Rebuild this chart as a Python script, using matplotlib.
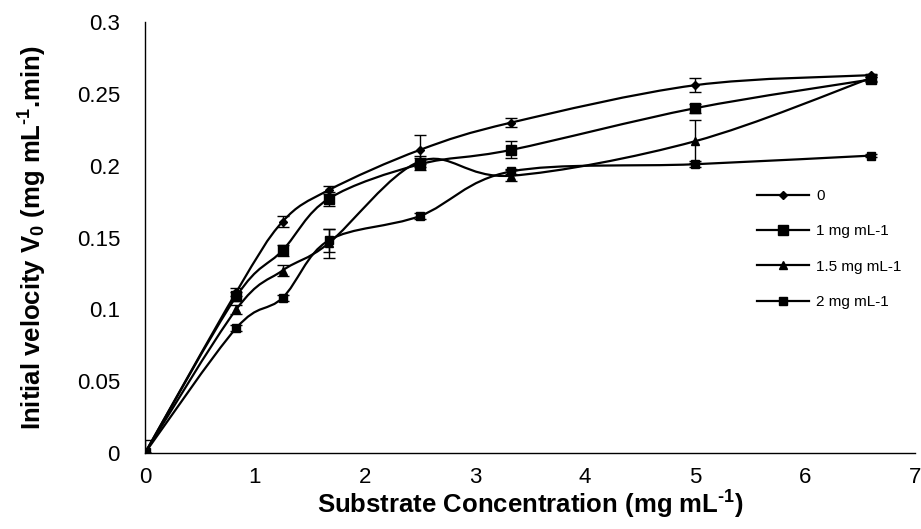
import numpy as np
import matplotlib
matplotlib.use('Agg')
import matplotlib.pyplot as plt
from matplotlib.path import Path
from matplotlib.patches import PathPatch
from matplotlib.lines import Line2D

plt.rcParams['font.family'] = ['Liberation Sans', 'DejaVu Sans']
plt.rcParams['mathtext.fontset'] = 'custom'
plt.rcParams['mathtext.rm'] = 'Liberation Sans:bold'
plt.rcParams['mathtext.it'] = 'Liberation Sans:bold'
plt.rcParams['mathtext.bf'] = 'Liberation Sans:bold'

# substrate concentration (mg/mL)
conc = [0, 0.83, 1.25, 1.67, 2.5, 3.33, 5, 6.6]

labels = ['0', '1 mg mL-1', '1.5 mg mL-1', '2 mg mL-1']
v_0 = [0, 0.112, 0.161, 0.183, 0.211, 0.230, 0.256, 0.263]
err_0 = [0, 0.003, 0.004, 0.003, 0.010, 0.003, 0.005, 0.001]
v_1 = [0, 0.109, 0.141, 0.177, 0.201, 0.211, 0.240, 0.260]
err_1 = [0, 0.003, 0.004, 0.005, 0.004, 0.006, 0.003, 0.002]
v_15 = [0, 0.100, 0.127, 0.146, 0.203, 0.193, 0.217, 0.261]
err_15 = [0.009, 0.003, 0.004, 0.010, 0.004, 0.004, 0.015, 0.002]
v_2 = [0, 0.087, 0.108, 0.148, 0.165, 0.196, 0.201, 0.207]
err_2 = [0, 0.002, 0.002, 0.008, 0.002, 0.002, 0.002, 0.001]

series = [v_0, v_1, v_15, v_2]
errors = [err_0, err_1, err_15, err_2]
markers = ['D', 's', '^', 's']
msizes = [4.5, 6.5, 6, 5.5]


def smooth_path(x, y):
    # excel-like smoothed line: cubic bezier segments through the points
    p = np.column_stack([x, y]).astype(float)
    ext = np.vstack([p[0], p, p[-1]])
    verts = [p[0]]
    codes = [Path.MOVETO]
    for i in range(len(p) - 1):
        p0, p1, p2, p3 = ext[i], ext[i + 1], ext[i + 2], ext[i + 3]
        c1 = p1 + (p2 - p0) / 6.0
        c2 = p2 - (p3 - p1) / 6.0
        verts += [c1, c2, p2]
        codes += [Path.CURVE4] * 3
    return Path(verts, codes)


fig = plt.figure(figsize=(9.21, 5.29), dpi=100)
ax = fig.add_axes([145 / 921, 1 - 453 / 529, 770 / 921, 431 / 529])

for vals, err, m, ms in zip(series, errors, markers, msizes):
    ax.add_patch(PathPatch(smooth_path(conc, vals), facecolor='none',
                           edgecolor='black', lw=1.6, zorder=2))
    ax.errorbar(conc, vals, yerr=err, fmt='none', ecolor='black',
                elinewidth=1, capsize=4, capthick=1, zorder=3)
    ax.plot(conc, vals, ls='none', marker=m, ms=ms, color='black', zorder=4)

ax.set_xlim(0, 7)
ax.set_ylim(0, 0.3)
ax.set_xticks(range(8))
ax.set_yticks([0, 0.05, 0.1, 0.15, 0.2, 0.25, 0.3])
ax.set_yticklabels(['0', '0.05', '0.1', '0.15', '0.2', '0.25', '0.3'])
ax.tick_params(length=0, labelsize=16)
ax.tick_params(axis='y', pad=18)
ax.tick_params(axis='x', pad=10)
for s in ['top', 'right']:
    ax.spines[s].set_visible(False)
for s in ['left', 'bottom']:
    ax.spines[s].set_linewidth(1)

ax.set_xlabel(r'Substrate Concentration (mg mL$^{\text{-1}}$)',
              fontsize=18.5, fontweight='bold', labelpad=1)
ax.set_ylabel(r'Initial velocity V$_{\text{0}}$ (mg mL$^{\text{-1}}$.min)',
              fontsize=18.5, fontweight='bold', labelpad=20)

handles = [Line2D([], [], color='black', lw=1.6, marker=m, ms=ms)
           for m, ms in zip(markers, msizes)]
ax.legend(handles, labels, loc='center left', bbox_to_anchor=(0.795, 0.473),
          frameon=False, fontsize=11, handlelength=3.4, handletextpad=0.45,
          labelspacing=1.4, borderpad=0, borderaxespad=0)

fig.savefig('out.png', dpi=100)
